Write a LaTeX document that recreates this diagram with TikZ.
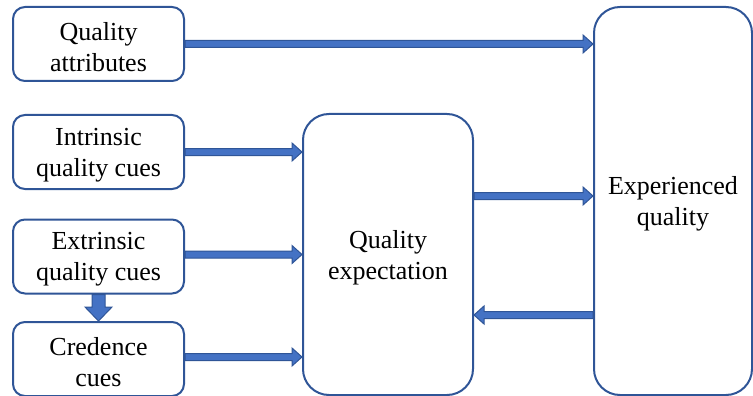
\documentclass[tikz,border=0pt]{standalone}
\usepackage{fontspec}
\setmainfont{Liberation Serif}
\usetikzlibrary{calc,backgrounds}
\definecolor{bdr}{HTML}{2F5597}
\definecolor{afill}{HTML}{4472C4}
\tikzset{
 box/.style={draw=bdr, line width=2pt, inner sep=0pt,
   label={[align=center, font=\fontsize{26}{31}\selectfont, yshift=-3pt]center:#1}},
 small/.style={box={#1}, minimum width=171pt, minimum height=74pt, rounded corners=12pt},
 blockarr/.style n args={3}{draw=bdr, fill=afill, line width=1pt, line join=miter,
   to path={let \p1=(\tikztostart), \p2=(\tikztotarget), \p3=($(\p2)!#3!(\p1)$) in
   ($(\p1)!#1!90:(\p2)$) -- ($(\p3)!#1!90:(\p2)$) -- ($(\p3)!#2!90:(\p2)$) -- (\p2)
   -- ($(\p3)!#2!-90:(\p2)$) -- ($(\p3)!#1!-90:(\p2)$) -- ($(\p1)!#1!-90:(\p2)$) -- cycle}},
 harr/.style={blockarr={3.5pt}{9pt}{10pt}},
 varr/.style={blockarr={6.5pt}{13.5pt}{14pt}},
}
\begin{document}
\begin{tikzpicture}[x=1pt,y=-1pt]
\useasboundingbox (0,0) rectangle (753,396);
\node[small={Quality\\attributes}] (qa) at (98.5,44) {};
\node[small={Intrinsic\\quality cues}] (ic) at (98.5,152) {};
\node[small={Extrinsic\\quality cues}] (ec) at (98.5,256.5) {};
\node[small={Credence\\cues}] (cc) at (98.5,359) {};
\node[box={Quality\\expectation}, minimum width=170pt, minimum height=281pt, rounded corners=26pt] (mid) at (388,254.5) {};
\node[box={Experienced\\quality}, minimum width=158pt, minimum height=388pt, rounded corners=26pt] (exp) at (673,201) {};
\coordinate (m5) at ($(mid.east)+(0,-58.5)$);
\coordinate (m6) at ($(mid.east)+(0,60.5)$);
\begin{scope}[on background layer]
\path[harr] (qa.east) to (qa.east -| exp.west);
\path[harr] (ic.east) to (ic.east -| mid.west);
\path[harr] ($(ec.east)+(0,-2)$) to ($(ec.east -| mid.west)+(0,-2)$);
\path[harr] ($(cc.east)+(0,-2)$) to ($(cc.east -| mid.west)+(0,-2)$);
\path[harr] (m5) to (m5 -| exp.west);
\path[harr] (m6 -| exp.west) to (m6);
\path[varr] (ec.south) to (cc.north);
\end{scope}
\end{tikzpicture}
\end{document}
